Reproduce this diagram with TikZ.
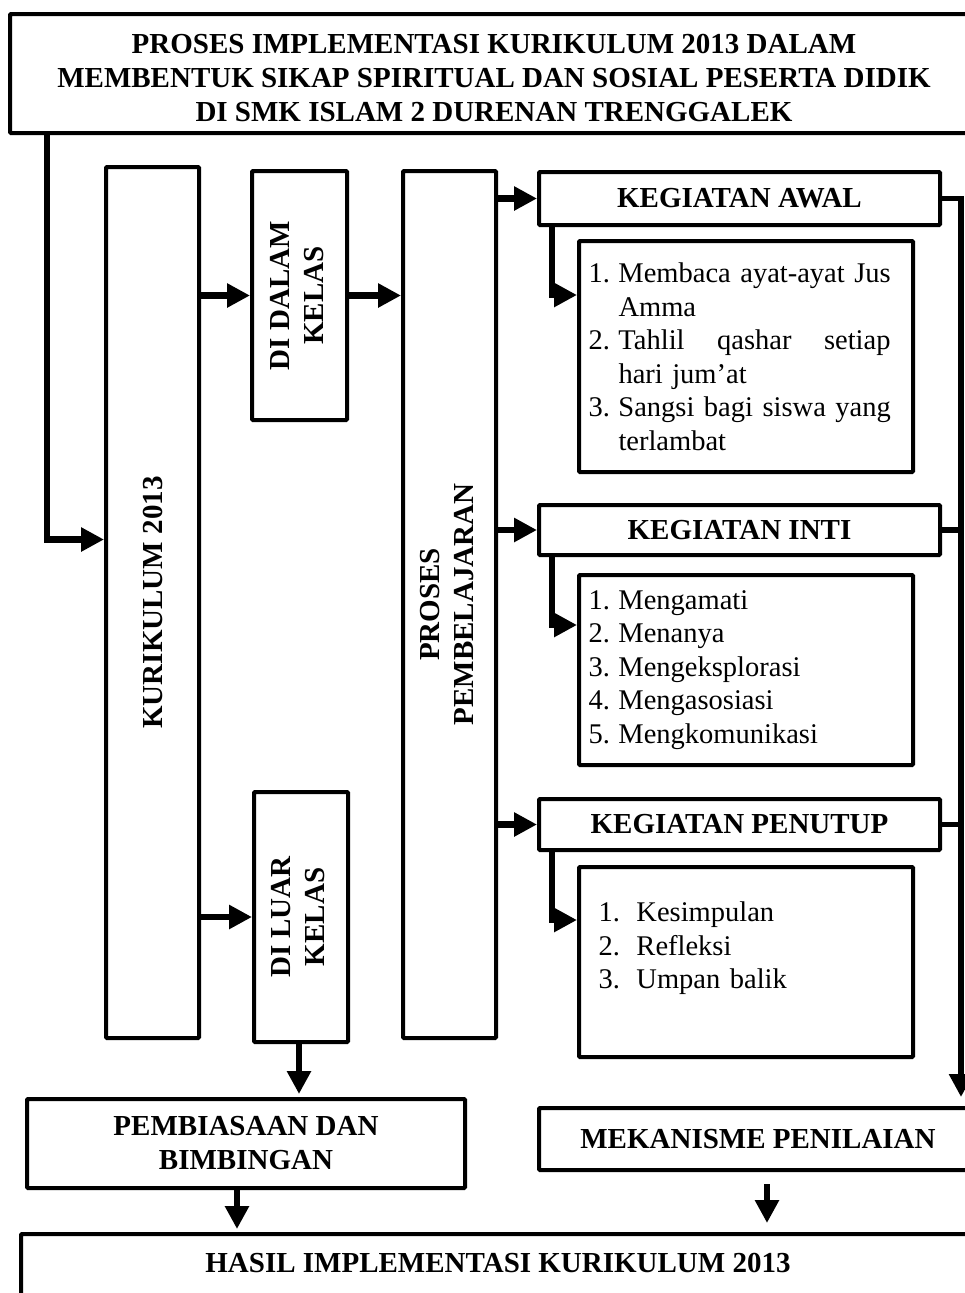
\documentclass[tikz,border=0pt]{standalone}
\usepackage{fontspec}
\setmainfont{Liberation Serif}
\usepackage{graphicx}
\usetikzlibrary{arrows.meta,positioning}
\tikzset{
    flow-box/.style = {draw=black, fill=white, line width=4pt, rectangle, rounded corners=1pt, inner sep=0pt, anchor=north west, align=center, font=\bfseries\fontsize{29}{34}\selectfont},
    list-box/.style = {draw=black, fill=white, line width=4pt, rectangle, rounded corners=1pt, inner sep=0pt, anchor=north west, align=left, text width=315pt, font=\fontsize{28.5}{33.5}\selectfont},
    flow-title/.style = {inner sep=0pt, font=\bfseries\fontsize{29}{34}\selectfont},
    flow-arrow/.style = {line width=6.5pt, -{Triangle[length=23pt,width=23pt]}},
    flow-line/.style = {line width=5.5pt},
}
\newcommand{\numlabel}[1]{\makebox[30pt][l]{#1}}
\newcommand{\hangline}{\hspace*{30pt}}

\begin{document}
\begin{tikzpicture}[x=1pt, y=-1pt]
\useasboundingbox (0,0) rectangle (965,1293);
\fill[white] (0,0) rectangle (965,1293);
\clip (0,0) rectangle (965,1293);

\node[flow-box, minimum width=968, minimum height=119] (title) at (8,12) {\rule{0pt}{28pt}PROSES IMPLEMENTASI KURIKULUM 2013 DALAM\\MEMBENTUK SIKAP SPIRITUAL DAN SOSIAL PESERTA DIDIK\\DI SMK ISLAM 2 DURENAN TRENGGALEK};

\node[flow-box, minimum width=93, minimum height=871] (kur) at (104,165) {\rotatebox{90}{KURIKULUM 2013}};
\node[flow-box, minimum width=95, minimum height=249] (dalam) at (250,169) {\rotatebox{90}{\begin{tabular}{@{}c@{}}DI DALAM\\KELAS\end{tabular}}};
\node[flow-box, minimum width=94, minimum height=250] (luar) at (252,790) {\rotatebox{90}{\begin{tabular}{@{}c@{}}DI LUAR\\KELAS\end{tabular}}};
\node[flow-box, minimum width=93, minimum height=867] (proses) at (401,169) {\rotatebox{90}{\begin{tabular}{@{}c@{}}PROSES\\PEMBELAJARAN\end{tabular}}};

\node[flow-box, minimum width=401, minimum height=53] (kawal) at (537,170) {KEGIATAN AWAL};
\node[list-box, minimum width=334, minimum height=231] (list-awal) at (577,239) {\numlabel{1.}Membaca ayat-ayat Jus\\
\hangline Amma\\
\numlabel{2.}\hbox to 272pt{Tahlil\hfill qashar\hfill setiap}\\
\hangline hari jum’at\\
\numlabel{3.}Sangsi bagi siswa yang\\
\hangline terlambat};

\node[flow-box, minimum width=401, minimum height=50] (kinti) at (537,503) {KEGIATAN INTI};
\node[list-box, minimum width=334, minimum height=190] (list-inti) at (577,573) {\numlabel{1.}Mengamati\\
\numlabel{2.}Menanya\\
\numlabel{3.}Mengeksplorasi\\
\numlabel{4.}Mengasosiasi\\
\numlabel{5.}Mengkomunikasi};

\node[flow-box, minimum width=401, minimum height=51] (kpen) at (537,797) {KEGIATAN PENUTUP};
\node[list-box, minimum width=334, minimum height=190] (list-penutup) at (577,865) {\hspace*{10pt}\makebox[38pt][l]{1.}Kesimpulan\\
\hspace*{10pt}\makebox[38pt][l]{2.}Refleksi\\
\hspace*{10pt}\makebox[38pt][l]{3.}Umpan balik\\
\mbox{}};

\node[flow-box, minimum width=438, minimum height=89] (pemb) at (25,1097) {PEMBIASAAN DAN\\BIMBINGAN};
\node[flow-box, minimum width=438, minimum height=62] (mek) at (537,1106) {MEKANISME PENILAIAN};
\node[flow-box, minimum width=954, minimum height=120] (hasil) at (19,1232) {};
\node[flow-title, below=21pt of hasil.north] (hasil-title) {HASIL IMPLEMENTASI KURIKULUM 2013};

\draw[flow-arrow] ([xshift=39pt]title.south west) |- ([yshift=63pt]kur.west);
\draw[flow-arrow] (kur.east |- dalam.west) -- (dalam.west);
\draw[flow-arrow] (kur.east |- luar.west) -- (luar.west);
\draw[flow-arrow] (dalam.east) -- (dalam.east -| proses.west);
\draw[flow-arrow, shorten >=3pt] ([xshift=-2pt]luar.south) -- ([xshift=-2pt]luar.south |- pemb.north);

\draw[flow-arrow] (proses.east |- kawal.west) -- (kawal.west);
\draw[flow-arrow] (proses.east |- kinti.west) -- (kinti.west);
\draw[flow-arrow] (proses.east |- kpen.west) -- (kpen.west);

\draw[flow-arrow] ([xshift=15pt]kawal.south west) |- ([yshift=-56pt]list-awal.north west);
\draw[flow-arrow] ([xshift=15pt]kinti.south west) |- ([yshift=-52pt]list-inti.north west);
\draw[flow-arrow] ([xshift=15pt]kpen.south west) |- ([yshift=-55pt]list-penutup.north west);

\coordinate (rail-end) at (961,1097);
\draw[flow-arrow, line width=5.5pt] (kawal.east) -| (rail-end);
\draw[flow-line] (kinti.east) -- (kinti.east -| rail-end);
\draw[flow-line] (kpen.east) -- (kpen.east -| rail-end);

\draw[flow-arrow, shorten <=12pt, shorten >=9pt] ([xshift=9pt]mek.south) -- ([xshift=9pt]mek.south |- hasil.north);
\draw[flow-arrow, shorten >=3pt] ([xshift=-9pt]pemb.south) -- ([xshift=-9pt]pemb.south |- hasil.north);
\end{tikzpicture}
\end{document}
